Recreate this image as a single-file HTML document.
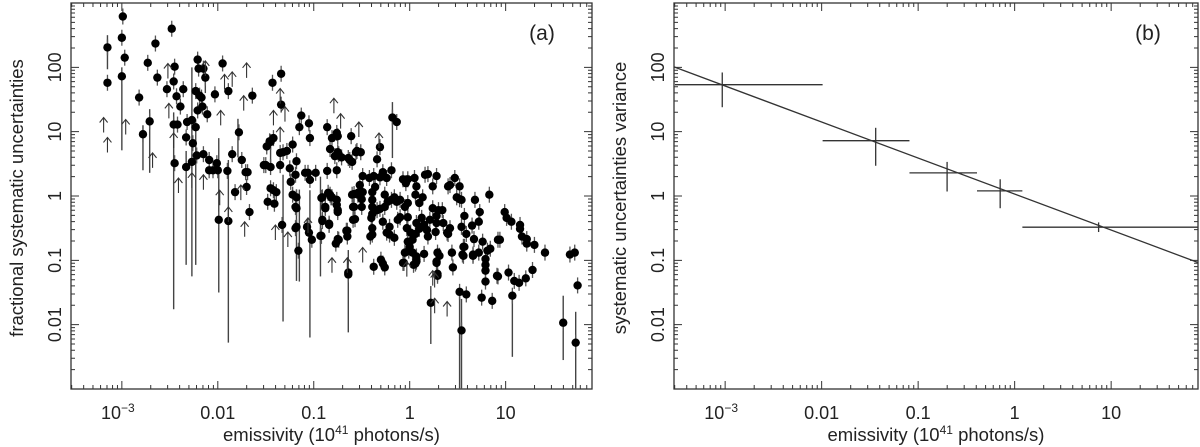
<!DOCTYPE html>
<html><head><meta charset="utf-8"><style>
html,body{margin:0;padding:0;background:#fff;}
svg{display:block;font-family:"Liberation Sans",Arial,sans-serif;}
</style></head><body>
<svg id="fig" width="1200" height="447" viewBox="0 0 1200 447" xmlns="http://www.w3.org/2000/svg">
<g id="panelA"></g>
<g id="panelB"></g>
</svg>
<script>
// ---------- Panel (a) data: log10 emissivity, log10 fractional uncertainty ----------
const emisLogA = [-3.15,-3.15,-2.99,-3.0,-3.0,-2.97,-2.82,-2.78,-2.71,-2.73,-2.65,-2.63,-2.53,-2.48,-2.45,-2.46,-2.43,-2.36,-2.39,-2.46,-2.42,-2.45,-2.33,-2.33,-2.32,-2.27,-2.26,-2.27,-2.23,-2.23,-2.21,-2.20,-2.21,-2.19,-2.17,-2.16,-2.15,-2.13,-2.11,-2.22,-2.15,-2.09,-2.09,-2.05,-2.03,-2.01,-2.0,-1.99,-1.95,-1.89,-1.90,-1.85,-1.89,-1.82,-1.78,-1.75,-1.71,-1.69,-1.70,-1.67,-1.64,-1.50,-1.49,-1.48,-1.45,-1.45,-1.42,-1.43,-1.34,-1.34,-1.35,-1.32,-1.33,-1.35,-1.45,-1.42,-1.41,-1.39,-1.28,-1.25,-1.24,-1.22,-1.22,-1.18,-1.19,-1.19,-1.16,-1.15,
-1.13,-1.05,-1.04,-0.81,-0.76,-0.83,-0.75,-0.61,-0.625,-0.56,-1.46,-1.52,-1.18,-1.09,-1.06,-1.04,-0.98,-1.19,-0.86,-0.76,-1.18,-1.18,-1.07,-1.05,-1.02,-0.92,-0.88,-0.91,-0.93,-0.84,-0.82,-0.76,-0.75,-0.77,-0.74,-0.66,-0.64,-0.64,-0.60,-0.58,-0.57,-0.54,
-0.86,-0.75,-0.78,-0.74,-0.71,-0.64,-0.60,-0.55,-0.51,-0.18,-0.135,-0.31,-0.34,-0.49,-0.42,-0.375,-0.31,-0.28,-0.24,-0.19,-0.07,-0.02,0.05,-0.04,0.07,0.19,0.28,0.24,0.40,0.49,0.54,0.57,0.73,0.72,0.65,0.59,0.54,0.67,0.76,0.92,0.81,0.84,0.72,0.57,0.56,0.66,0.79,0.79,0.79,0.44,0.40,0.28,0.35,0.27,0.19,0.07,0.10,0.06,0.03,-0.02,0.01,-0.03,0.18,0.15,0.21,0.28,0.30,0.24,0.10,0.135,0.06,0.125,-0.02,-0.05,-0.10,-0.135,-0.16,-0.19,-0.23,-0.26,-0.26,-0.31,-0.34,-0.39,-0.39,-0.36,-0.39,-0.40,-0.39,-0.28,-0.21,-0.125,-0.10,-0.02,-0.21,-0.24,-0.16,-0.39,-0.39,-0.41,-0.50,-0.50,-0.59,-0.59,-0.58,-0.54,-0.52,-0.49,-0.83,-0.85,-0.91,-0.81,-0.88,-0.75,-0.76,-0.91,-0.84,-0.92,-0.65,-0.65,-0.75,-0.375,-0.30,-0.28,-0.26,-0.07,-0.05,-0.01,0.03,0.07,0.07,0.04,0.0,0.15,0.29,0.31,0.28,0.29,0.45,0.56,0.91,0.94,
0.16,0.47,0.52,0.68,0.83,0.99,1.06,1.15,1.01,1.15,1.30,
-0.06,0.06,0.07,0.22,0.29,0.28,0.52,0.54,0.59,0.55,0.66,0.75,0.79,0.86,0.92,1.03,1.07,1.09,1.14,1.21,1.28,1.41,1.60,1.67,1.72,1.73,1.75,
1.17,1.22,1.22,0.42,0.34,0.42,0.39,0.52];
const fracLogA = [2.31,1.76,2.79,2.46,1.86,2.15,1.53,0.96,1.16,2.07,2.37,1.84,1.66,2.60,2.01,1.78,1.55,1.66,1.39,1.11,1.11,0.51,0.91,0.45,1.15,1.18,0.82,0.53,1.07,1.63,2.12,1.98,1.33,1.56,1.53,1.39,1.98,1.84,1.27,0.63,0.65,0.56,0.40,0.40,1.58,0.51,0.40,-0.37,2.06,1.63,0.39,0.65,-0.39,0.06,0.99,0.56,0.37,0.37,0.14,-0.25,1.56,0.48,0.77,-0.09,0.45,0.84,0.90,1.76,1.90,1.42,0.67,0.68,-0.45,0.48,0.12,0.09,-0.12,0.06,0.70,0.43,0.22,0.80,0.02,-0.02,-0.17,-0.50,-0.85,1.07,
1.25,1.13,0.90,0.90,0.98,0.73,0.68,0.93,0.56,0.68,0.85,0.48,0.54,0.36,0.36,0.25,0.36,0.33,0.39,0.40,-0.19,-0.48,-0.48,-0.57,-0.68,-0.03,-0.19,-0.37,-0.62,-0.45,-0.02,-0.06,-0.25,-0.74,-0.68,-0.54,-1.19,-1.22,0.02,-0.17,-0.36,0.02,
1.07,0.93,0.62,0.65,0.60,0.59,0.53,0.70,0.68,1.22,1.15,0.76,0.57,0.31,0.28,0.31,0.29,0.37,0.28,0.40,0.26,0.26,0.28,0.20,0.15,0.34,0.31,0.15,0.15,-0.02,-0.06,-0.31,-0.25,-0.40,-0.46,-0.59,-0.48,-0.67,-0.71,-0.68,-0.85,-0.82,-0.88,-0.79,-0.93,-0.93,-0.98,-1.07,-1.16,-0.88,-0.59,-0.42,-0.42,-0.56,-0.63,-0.42,-0.51,-0.59,-0.68,-0.71,-0.57,-0.50,-0.53,-0.45,-0.37,-0.31,-0.22,-0.19,-0.11,-0.02,0.02,-0.34,-0.11,-0.17,-0.06,-0.09,-0.02,-0.06,-0.09,0.02,-0.17,-0.20,-0.22,-0.17,-0.06,0.14,0.06,-0.34,-0.28,-0.40,-0.48,-0.37,-0.33,-0.33,-0.60,-0.57,-0.65,-0.50,-0.60,-0.63,-0.05,-0.17,-0.17,-0.37,0.03,0.05,0.17,0.06,0.02,0.05,-0.02,-0.02,-0.17,-0.22,-0.14,-0.39,-0.43,-0.62,-0.54,-0.63,-0.67,-1.10,-0.99,-1.05,-1.11,-1.04,-0.88,-0.85,-0.88,-0.94,-1.02,-1.07,-0.79,-0.90,-0.88,-0.93,-1.02,-1.21,-1.11,-0.79,-1.24,-0.68,
0.33,0.28,0.15,-0.06,0.02,-0.25,-0.40,-0.51,-0.34,-0.45,-0.76,
-1.04,-1.05,-0.99,-1.66,-1.24,-1.04,-1.49,-2.09,-1.53,-0.91,-0.91,-1.58,-1.33,-1.63,-1.25,-1.19,-1.55,-1.32,-1.35,-1.28,-1.15,-0.88,-1.97,-0.91,-0.88,-2.28,-1.39,
-0.63,-0.67,-0.74,0.17,-0.22,-0.50,-0.57,-0.05];
// long error bars (log10): x, top, bottom
const barEmisLog = [-3.15,-3.0,-2.78,-2.71,-2.46,-2.33,-2.27,-2.23,-1.99,-1.89,-1.32,-1.18,-1.15,-1.04,-0.93,-0.64,-0.18,0.52,0.54,0.22,1.07,1.60,1.73,-2.13,-1.79,-1.45];
const barTopLog  = [2.5,2.0,1.1,1.35,1.3,0.7,2.0,1.1,0.9,0.56,0.33,0.1,0.1,0.09,0.3,-0.84,1.46,-1.46,-1.6,-1.4,-1.5,-1.55,-1.8,2.0,1.2,0.9];
const barBotLog  = [1.97,0.71,0.4,0.36,-1.76,-1.07,-1.25,-1.07,-1.5,-2.28,-1.95,-1.32,-1.33,-2.2,-1.25,-2.12,0.59,-2.99,-2.99,-2.3,-2.5,-2.55,-2.99,1.6,0.6,0.4];
// lower-limit arrows (log10 tip positions)
const arrowEmisLog = [-3.19,-3.15,-2.96,-2.68,-2.52,-2.51,-2.41,-2.46,-2.27,-2.13,-2.15,-1.97,-1.93,-1.85,-1.73,-1.70,-1.98,-1.89,-1.76,-1.72,-1.42,-1.35,-1.35,-1.40,-1.30,-1.27,-1.06,-0.81,-0.65,-0.79,-0.72,-0.53,-0.32,-0.49,0.26,-0.03,0.24,0.26,0.39];
const arrowFracLog = [1.22,0.91,1.19,0.67,2.06,1.44,0.28,0.98,0.36,2.1,0.33,1.33,1.89,1.93,1.56,2.07,0.09,-0.17,0.17,-0.40,1.33,1.67,1.07,-0.45,1.39,-0.56,-0.34,-0.96,-0.96,1.52,1.28,1.15,0.98,-0.80,-1.19,-1.02,-1.16,-1.59,-1.64];

// ---------- Panel (b) data ----------
const binEmisLog = [-3.03,-1.44,-0.70,-0.15,0.87];
const binEmisLoLog = [-3.52,-1.99,-1.09,-0.39,0.08];
const binEmisHiLog = [-1.99,-1.09,-0.39,0.08,1.9];
const binVarLog = [1.73,0.86,0.36,0.08,-0.485];
const binVarLoLog = [1.38,0.47,0.07,-0.19,-0.56];
const binVarHiLog = [1.92,1.06,0.53,0.26,-0.41];
const fitNormLog = [0.03];   // log10 of variance at emissivity = 1
const fitIndex = [-0.56];

// ---------- axes ----------
const NS = "http://www.w3.org/2000/svg";
const XMIN = -3.53, XMAX = 1.9, YMIN = -3, YMAX = 3;
function mk(parent, tag, attrs){
  const e = document.createElementNS(NS, tag);
  for (const k in attrs) e.setAttribute(k, attrs[k]);
  parent.appendChild(e);
  return e;
}
function makeAxes(left, right){
  const top = 3, bot = 389;
  return {
    left, right, top, bot,
    x: l => left + (l - XMIN) / (XMAX - XMIN) * (right - left),
    y: l => bot - (l - YMIN) / (YMAX - YMIN) * (bot - top)
  };
}
const A = makeAxes(71, 592);
const B = makeAxes(674, 1198);

function drawFrame(g, ax, yTitle, tag){
  const box = mk(g, 'rect', {x:ax.left, y:ax.top, width:ax.right-ax.left, height:ax.bot-ax.top, fill:'none', stroke:'#333', 'stroke-width':1.3});
  
  
  let d = '';
  for (let dec = -4; dec <= 3; dec++) for (let m = 1; m <= 9; m++){
    const l = dec + Math.log10(m);
    const len = m === 1 ? 8 : 4;
    if (l >= XMIN && l <= XMAX){
      const X = ax.x(l);
      d += `M${X},${ax.bot}v${-len}M${X},${ax.top}v${len}`;
    }
    if (l > YMIN && l < YMAX){
      const Y = ax.y(l);
      d += `M${ax.left},${Y}h${len}M${ax.right},${Y}h${-len}`;
    }
  }
  const t = mk(g, 'path', {d, stroke:'#333', 'stroke-width':1, fill:'none'});
  
  
  const xl = [[-3,'10','−3'],[-2,'0.01'],[-1,'0.1'],[0,'1'],[1,'10']];
  xl.forEach(a => {
    const tx = mk(g, 'text', {x:ax.x(a[0]) + (a[2] ? -4 : 0), y:419, 'font-size':18, 'text-anchor':'middle', fill:'#222'});
    
    
    tx.textContent = a[1];
    if (a[2]){ const s = mk(tx, 'tspan', {'font-size':12, dy:-7}); s.textContent = a[2]; }
  });
  const yl = [[2,'100'],[1,'10'],[0,'1'],[-1,'0.1'],[-2,'0.01']];
  yl.forEach(a => {
    const tx = mk(g, 'text', {transform:`translate(${ax.left-10},${ax.y(a[0])}) rotate(-90)`, 'font-size':18, 'text-anchor':'middle', fill:'#222'});
    
    
    tx.textContent = a[1];
  });
  const yt = mk(g, 'text', {transform:`translate(${ax.left-48},198) rotate(-90)`, 'font-size':18.5, 'text-anchor':'middle', fill:'#222'});
  
  
  yt.textContent = yTitle;
  const xt = mk(g, 'text', {x:(ax.left+ax.right)/2, y:441, 'font-size':18.5, 'text-anchor':'middle', fill:'#222'});
  
  
  xt.textContent = 'emissivity (10';
  const sp = mk(xt, 'tspan', {'font-size':12, dy:-7}); sp.textContent = '41';
  const sp2 = mk(xt, 'tspan', {dy:7}); sp2.textContent = ' photons/s)';
  const pl = mk(g, 'text', {x:ax.right-50, y:40, 'font-size':21, 'text-anchor':'middle', fill:'#222'});
  
  
  pl.textContent = tag;
}

// ---------- panel (a) ----------
const gA = document.getElementById('panelA');
drawFrame(gA, A, 'fractional systematic uncertainties', '(a)');
const clip = mk(gA, 'clipPath', {id:'clipA'});
mk(clip, 'rect', {x:A.left, y:A.top, width:A.right-A.left, height:A.bot-A.top});
const gAd = mk(gA, 'g', {'clip-path':'url(#clipA)'});


barEmisLog.forEach((l, i) => {
  const ln = mk(gAd, 'line', {x1:A.x(l), x2:A.x(l), y1:A.y(barTopLog[i]), y2:A.y(barBotLog[i]), stroke:'#444', 'stroke-width':1.4});
  
  
});
emisLogA.forEach((l, i) => {
  const X = A.x(l), Y = A.y(fracLogA[i]);
  const w = mk(gAd, 'line', {x1:X, x2:X, y1:Y-8, y2:Y+8, stroke:'#555', 'stroke-width':1.3});
  
  
});
emisLogA.forEach((l, i) => {
  const c = mk(gAd, 'circle', {cx:A.x(l), cy:A.y(fracLogA[i]), r:4.2, fill:'#000'});
  
  
});
arrowEmisLog.forEach((l, i) => {
  const X = A.x(l), Y = A.y(arrowFracLog[i]);
  const p = mk(gAd, 'path', {d:`M${X},${Y+15}V${Y}M${X-4},${Y+5}L${X},${Y}L${X+4},${Y+5}`, stroke:'#333', 'stroke-width':1.1, fill:'none'});
  
  
});

// ---------- panel (b) ----------
const gB = document.getElementById('panelB');
drawFrame(gB, B, 'systematic uncertainties variance', '(b)');
const fit = mk(gB, 'line', {x1:B.x(XMIN), y1:B.y(fitNormLog[0] + fitIndex[0]*XMIN), x2:B.x(XMAX), y2:B.y(fitNormLog[0] + fitIndex[0]*XMAX), stroke:'#333', 'stroke-width':1.3});


binEmisLog.forEach((l, i) => {
  const X = B.x(l), Y = B.y(binVarLog[i]);
  const h = mk(gB, 'line', {x1:B.x(binEmisLoLog[i]), x2:B.x(binEmisHiLog[i]), y1:Y, y2:Y, stroke:'#333', 'stroke-width':1.3});
  
  
  const v = mk(gB, 'line', {x1:X, x2:X, y1:B.y(binVarHiLog[i]), y2:B.y(binVarLoLog[i]), stroke:'#333', 'stroke-width':1.3});
  
  
});
</script>
</body></html>
